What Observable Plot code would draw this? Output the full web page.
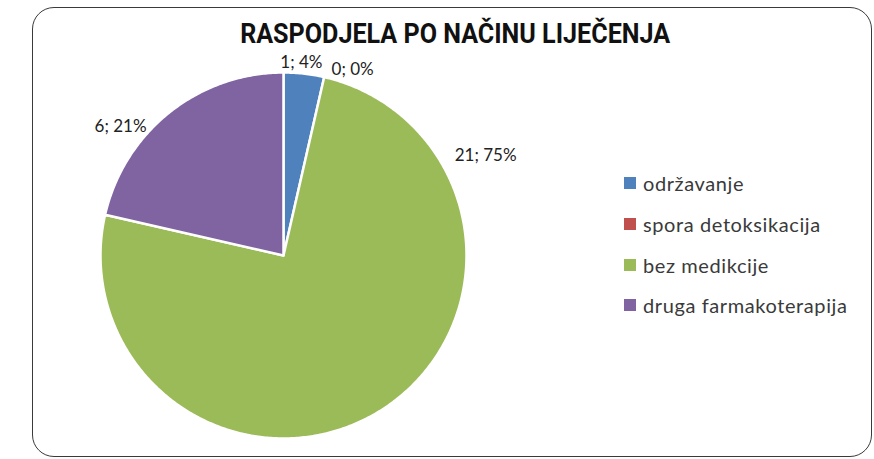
<!DOCTYPE html>
<html><head><meta charset="utf-8">
<script src="https://cdn.jsdelivr.net/npm/d3@7"></script>
<script src="https://cdn.jsdelivr.net/npm/@observablehq/plot@0.6"></script>
<style>
body{margin:0;background:#fff;}
#wrap{position:relative;width:874px;height:459px;overflow:hidden;font-family:Lato,"Open Sans",sans-serif;}
#frame{position:absolute;left:32px;top:7px;width:840px;height:450px;border:1.5px solid #3a3a3a;border-radius:22px;box-sizing:border-box;}
#title{position:absolute;left:0;width:910px;top:18px;text-align:center;}
#title span{display:inline-block;font-family:Roboto,"DejaVu Sans",sans-serif;font-weight:bold;font-size:27px;line-height:32px;color:#111;transform-origin:center;white-space:nowrap;}
#chart{position:absolute;left:0;top:0;}
#legend{position:absolute;left:624px;top:163px;}
.row{display:flex;align-items:center;height:40.7px;font-size:20px;letter-spacing:0.6px;color:#3a3a3a;}
.sw{width:12px;height:12px;margin-right:7px;}
</style></head>
<body>
<div id="wrap">
  <div id="frame"></div>
  <div id="chart"></div>
  <div id="title"><span>RASPODJELA PO NAČINU LIJEČENJA</span></div>
  <div id="legend"></div>
</div>
<script>
const categories = ["održavanje", "spora detoksikacija", "bez medikcije", "druga farmakoterapija"];
const values = [1, 0, 21, 6];
const colors = ["#4f81bd", "#c0504d", "#9bbb59", "#8064a2"];
// label placement (layout): angle in degrees clockwise from top, radius as a fraction of pie radius
const labelAngle = [5.3, 20.4, 63.7, 308.4];
const labelRadius = [1.06, 1.084, 1.232, 1.136];

const total = d3.sum(values);
const pie = d3.pie().sort(null).value(d => d)(values);

const features = [];
pie.forEach((p, i) => {
  if (values[i] <= 0) return;
  const ring = [[0, 0]];
  const n = Math.max(4, Math.ceil((p.endAngle - p.startAngle) / 0.01));
  for (let k = 0; k <= n; k++) {
    const a = p.startAngle + (p.endAngle - p.startAngle) * k / n;
    ring.push([Math.sin(a), -Math.cos(a)]);
  }
  ring.push([0, 0]);
  features.push({type: "Feature", properties: {name: categories[i]}, geometry: {type: "Polygon", coordinates: [ring]}});
});

const labels = values.map((v, i) => {
  const a = labelAngle[i] * Math.PI / 180;
  return {
    text: `${v}; ${Math.round(v / total * 100)}%`,
    x: Math.sin(a) * labelRadius[i],
    y: -Math.cos(a) * labelRadius[i]
  };
});

const chart = Plot.plot({
  width: 874,
  height: 459,
  margin: 0,
  projection: d3.geoIdentity().scale(183).translate([283, 255]),
  color: {domain: categories, range: colors},
  marks: [
    Plot.geo(features, {fill: d => d.properties.name, stroke: "white", strokeWidth: 2.5}),
    Plot.text(labels, {x: "x", y: "y", text: "text", fontSize: 17, fill: "#222", fontFamily: "Lato, 'Open Sans', sans-serif"})
  ]
});
document.getElementById("chart").appendChild(chart);

const legend = document.getElementById("legend");
categories.forEach((c, i) => {
  const row = document.createElement("div");
  row.className = "row";
  const sw = document.createElement("div");
  sw.className = "sw";
  sw.style.background = colors[i];
  const t = document.createElement("span");
  t.textContent = c;
  row.appendChild(sw); row.appendChild(t);
  legend.appendChild(row);
});

// condense the title to the reference width
const ts = document.querySelector("#title span");
const w = ts.getBoundingClientRect().width;
ts.style.transform = `scaleX(${430 / w})`;
</script>
</body></html>
